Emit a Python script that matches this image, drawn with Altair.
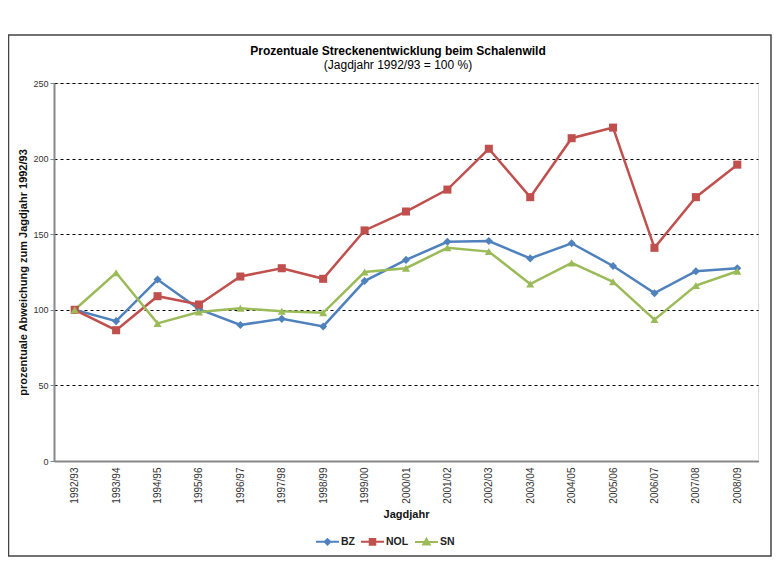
import altair as alt
import pandas as pd

years = ["1992/93", "1993/94", "1994/95", "1995/96", "1996/97", "1997/98", "1998/99",
         "1999/00", "2000/01", "2001/02", "2002/03", "2003/04", "2004/05", "2005/06",
         "2006/07", "2007/08", "2008/09"]
regions = ["BZ", "NOL", "SN"]
bz = [100, 92.5, 120, 100.5, 90, 94, 89, 119, 133, 145, 145.5, 134, 144, 129, 111, 125.5, 127.5]
nol = [100, 86.5, 109, 103.5, 122, 127.5, 120.5, 152.5, 165, 179.5, 206.5, 174.5, 213.5, 220.5, 141, 174.5, 196]
sn = [100, 124.5, 91, 98.5, 101, 99, 98, 125, 127.5, 141, 138.5, 117, 131, 118.5, 93.5, 116, 125.5]
colors = ["#4F81BD", "#C0504D", "#9BBB59"]
marker_shapes = ["diamond", "square", "triangle-up"]
legend_shapes = [
    "M-1,0H1M0,-0.24L0.24,0L0,0.24L-0.24,0Z",
    "M-1,0H1M-0.24,-0.24H0.24V0.24H-0.24Z",
    "M-1,0H1M0,-0.27L0.28,0.22H-0.28Z",
]

rows = []
for name, vals in zip(regions, [bz, nol, sn]):
    for y, v in zip(years, vals):
        rows.append({"Jagdjahr": y, "Region": name, "Wert": v})
df = pd.DataFrame(rows)

FONT = "Liberation Sans"
cscale = alt.Scale(domain=regions, range=colors)

x_enc = alt.X("Jagdjahr:N", sort=years, title="Jagdjahr",
              axis=alt.Axis(labelAngle=270, labelFontSize=10, labelColor="#333",
                            labelPadding=6, ticks=False, domainColor="#888",
                            domainWidth=2, titleFontSize=11, titleFontWeight="bold",
                            titlePadding=5, titleColor="#111", labelFont=FONT,
                            titleFont=FONT))
y_enc = alt.Y("Wert:Q", title="prozentuale Abweichung zum Jagdjahr 1992/93",
              scale=alt.Scale(domain=[0, 250], nice=False),
              axis=alt.Axis(values=[0, 50, 100, 150, 200, 250], labelFontSize=9,
                            labelColor="#333", labelPadding=2, tickSize=4,
                            tickColor="#888", domainColor="#888", domainWidth=2,
                            grid=True, gridColor="#000", gridDash=[3, 3], gridWidth=1,
                            titleFontSize=11, titleFontWeight="bold", titlePadding=4,
                            titleColor="#111", labelFont=FONT, titleFont=FONT))

base = alt.Chart(df).encode(x=x_enc, y=y_enc)

lines = base.mark_line(strokeWidth=2.5).encode(
    color=alt.Color("Region:N", scale=cscale, legend=None)
)
points = base.mark_point(filled=True, opacity=1, size=65).encode(
    color=alt.Color("Region:N", scale=cscale, legend=None),
    shape=alt.Shape("Region:N", scale=alt.Scale(domain=regions, range=marker_shapes),
                    legend=None),
)

leg = alt.Legend(orient="none", legendX=261, legendY=446, direction="horizontal",
                 symbolSize=529, symbolStrokeWidth=2, labelFontSize=10.5,
                 labelFontWeight="bold", labelFont=FONT, labelColor="#222",
                 columnPadding=2, labelOffset=1, padding=0)
legend_layer = alt.Chart(df).transform_filter("false").mark_point(
    filled=True, opacity=1
).encode(
    color=alt.Color("Region:N", scale=cscale, legend=leg, title=None),
    stroke=alt.Stroke("Region:N", scale=cscale, legend=leg, title=None),
    shape=alt.Shape("Region:N", scale=alt.Scale(domain=regions, range=legend_shapes),
                    legend=leg, title=None),
)

border = alt.Chart(alt.Data(values=[{}])).mark_rect(
    filled=False, stroke="#444", strokeWidth=1.5
).encode(
    x=alt.value(-45.5), x2=alt.value(717), y=alt.value(-48), y2=alt.value(473)
)

chart = alt.layer(border, lines, points, legend_layer).resolve_scale(
    color="independent", shape="independent", stroke="independent"
).properties(
    width=704, height=378,
    autosize=alt.AutoSizeParams(type="none"),
    padding={"left": 46, "top": 75, "right": 14, "bottom": 97},
    title=alt.TitleParams(
        text="Prozentuale Streckenentwicklung beim Schalenwild",
        subtitle="(Jagdjahr 1992/93 = 100 %)",
        font=FONT, fontSize=12, fontWeight="bold", color="#000",
        subtitleFont=FONT, subtitleFontSize=12, subtitleColor="#000",
        anchor="middle", offset=-38, subtitlePadding=2, dx=-8,
    ),
).configure_view(strokeWidth=0).configure(background="white")

chart.save("out.html", embed_options={"renderer": "svg", "actions": False})
